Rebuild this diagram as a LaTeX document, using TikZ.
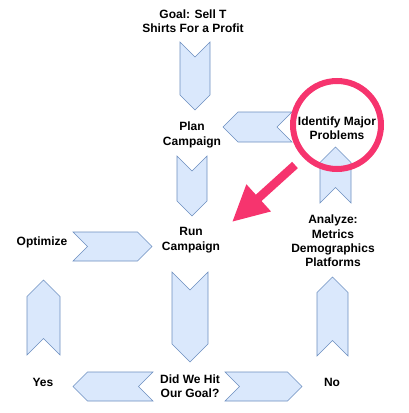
\documentclass[tikz,border=0pt]{standalone}
\usepackage{fontspec}
\setmainfont{Liberation Sans}
\usepackage{xcolor}
\usetikzlibrary{arrows.meta,positioning}
\definecolor{chfill}{HTML}{DAE8FC}
\definecolor{chline}{HTML}{6C8EBF}
\definecolor{mark}{RGB}{246,52,110}

\tikzset{
  pics/chevron/.style 2 args={code={
    \draw[draw=chline,fill=chfill,line width=0.6pt,line join=miter]
      (-#1/2,-#2/2) -- (#1/2-#2/2,-#2/2) -- (#1/2,0) -- (#1/2-#2/2,#2/2)
      -- (-#1/2,#2/2) -- (-#1/2+#2/2,0) -- cycle;
  }}
}

\begin{document}
\begin{tikzpicture}[
  x=1pt,y=-1pt,
  label/.style={align=center,font=\bfseries\fontsize{12}{14.4}\selectfont,text=black,inner sep=0pt},
  ring/.style={circle,draw=mark,line width=6pt,minimum size=88pt,inner sep=0pt},
  hint/.style={-{Triangle[length=36pt,width=34pt]},line width=8.5pt,color=mark}
]
\useasboundingbox (0,0) rectangle (408,413);
% chevrons (length, thickness)
\pic[rotate=-90] (c1) at (195,76) {chevron={68}{30}};
\pic[rotate=-90] (c2) at (192,186) {chevron={60}{30}};
\pic[rotate=-90] (c3) at (190,317) {chevron={90}{36}};
\pic[rotate=180] (c4) at (257.5,127) {chevron={69}{30}};
\pic[rotate=90] (c5) at (335.5,175) {chevron={56}{31}};
\pic (c6) at (112.5,246.5) {chevron={79}{29}};
\pic[rotate=90] (c7) at (43.5,317.5) {chevron={75}{33}};
\pic[rotate=90] (c8) at (332.5,316.5) {chevron={79}{31}};
\pic[rotate=180] (c9) at (113,386.5) {chevron={80}{29}};
\pic (c10) at (263.5,386.5) {chevron={77}{29}};
% texts
\node[label] (goal) at (193,21) {Goal: Sell T\\Shirts For a Profit};
\node[label] (plan) at (192,135) {Plan\\Campaign};
\node[label] (ident) at (337,128) {Identify Major\\Problems};
\node[label] (run) at (191,240) {Run\\Campaign};
\node[label] (analyze) at (333,241) {Analyze:\\Metrics\\Demographics\\Platforms};
\node[label] (optim) at (42,242) {Optimize};
\node[label] (did) at (190,386) {Did We Hit\\Our Goal?};
\node[label] (yes) at (43,382) {Yes};
\node[label] (no) at (332,382) {No};
% highlight
\node[ring] (circ) at (337,125) {};
\coordinate (tail) at (295,165);
\coordinate (tip) at (232,222);
\draw[hint] (tail) -- (tip);
\end{tikzpicture}
\end{document}
